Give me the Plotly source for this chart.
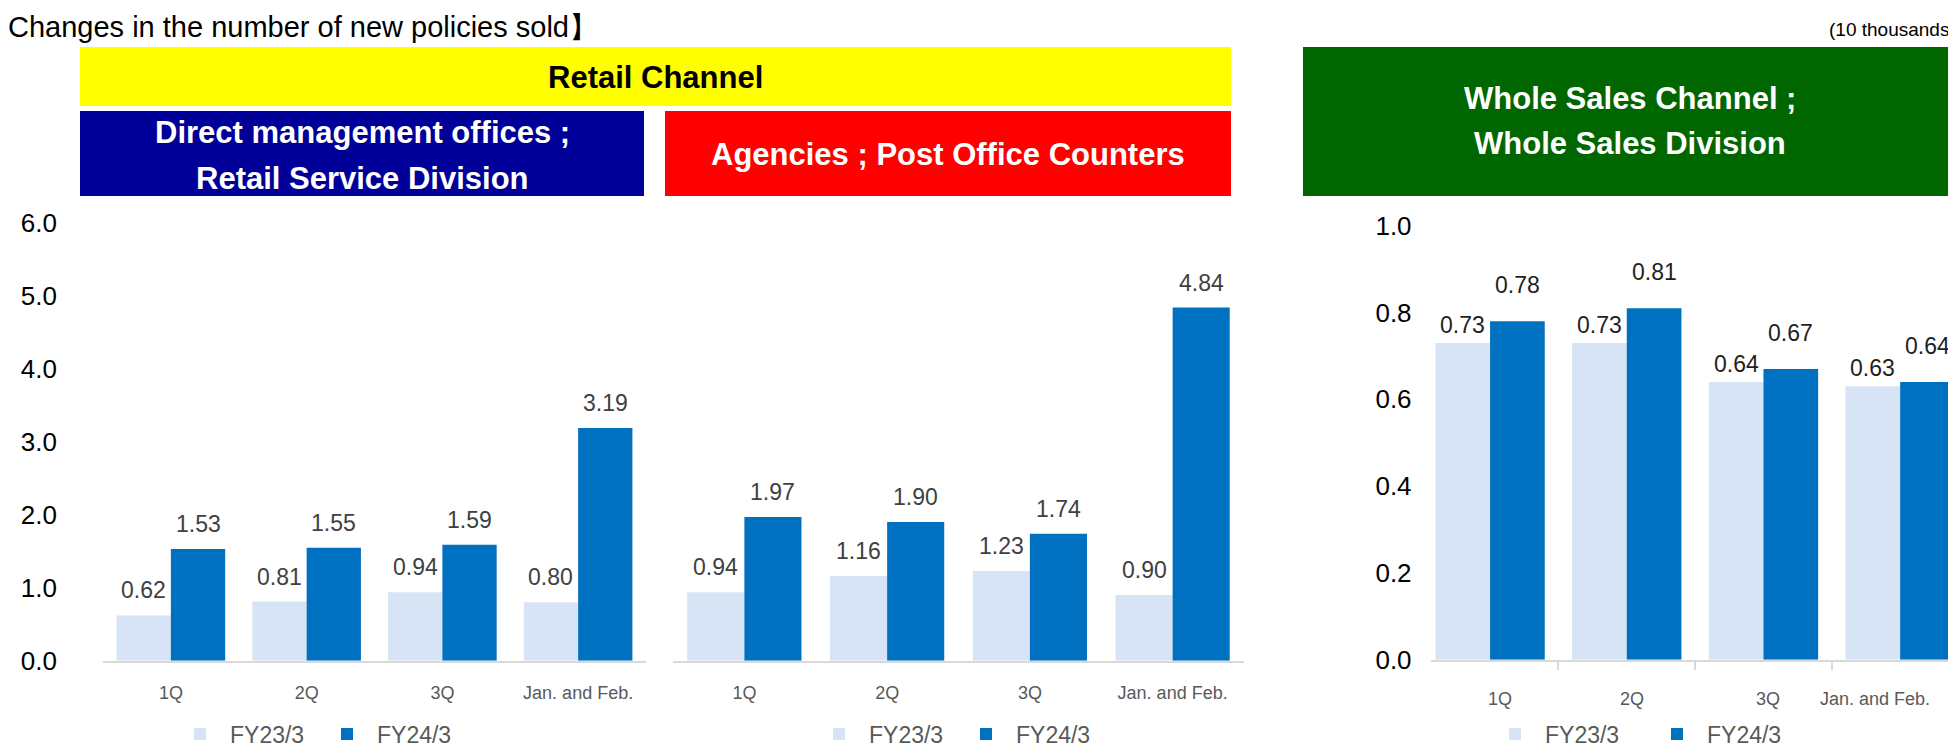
import plotly.graph_objects as go

W, H = 1956, 747

categories = ["1Q", "2Q", "3Q", "Jan. and Feb."]
series_names = ["FY23/3", "FY24/3"]

direct_fy23 = [0.62, 0.81, 0.94, 0.80]
direct_fy24 = [1.53, 1.55, 1.59, 3.19]

agency_fy23 = [0.94, 1.16, 1.23, 0.90]
agency_fy24 = [1.97, 1.90, 1.74, 4.84]

whole_fy23 = [0.73, 0.73, 0.64, 0.63]
whole_fy24 = [0.78, 0.81, 0.67, 0.64]

retail_ticks = [0, 1, 2, 3, 4, 5, 6]
whole_ticks = [0, 0.2, 0.4, 0.6, 0.8, 1.0]

LIGHT = "#D6E4F5"
DARK = "#0070C0"
FONT = "Arial, Liberation Sans, sans-serif"


def px(x):
    return x / W


def py(y):
    return 1 - y / H


fig = go.Figure()

panels = [
    ("x", "y", "legend", direct_fy23, direct_fy24),
    ("x2", "y2", "legend2", agency_fy23, agency_fy24),
    ("x3", "y3", "legend3", whole_fy23, whole_fy24),
]
for xa, ya, lg, s1, s2 in panels:
    fig.add_trace(go.Bar(x=categories, y=s1, name=series_names[0], marker=dict(color=LIGHT, line=dict(width=0)),
                         xaxis=xa, yaxis=ya, legend=lg, hoverinfo="skip"))
    fig.add_trace(go.Bar(x=categories, y=s2, name=series_names[1], marker=dict(color=DARK, line=dict(width=0)),
                         xaxis=xa, yaxis=ya, legend=lg, hoverinfo="skip"))

BARGAP = 0.2
off = (1 - BARGAP) / 4

annotations = []
label_cfg = [
    ("x", "y", direct_fy23, direct_fy24, 25, 25, "#404040"),
    ("x2", "y2", agency_fy23, agency_fy24, 25, 25, "#404040"),
    ("x3", "y3", whole_fy23, whole_fy24, 18, 36, "#1F1F1F"),
]
for xa, ya, s1, s2, sh1, sh2, col in label_cfg:
    for i, v in enumerate(s1):
        annotations.append(dict(x=i - off, y=v, xref=xa, yref=ya, text=f"{v:.2f}", showarrow=False,
                                yshift=sh1, yanchor="middle", font=dict(family=FONT, size=23, color=col)))
    for i, v in enumerate(s2):
        annotations.append(dict(x=i + off, y=v, xref=xa, yref=ya, text=f"{v:.2f}", showarrow=False,
                                yshift=sh2, yanchor="middle", font=dict(family=FONT, size=23, color=col)))

# category labels of the right-hand panel (last one pulled inside the page, as in the original)
right_label_xshift = [10, 5, 5, -25]
for i, c in enumerate(categories):
    annotations.append(dict(x=i, y=0, xref="x3", yref="y3", text=c, showarrow=False,
                            xshift=right_label_xshift[i], yshift=-39, yanchor="middle",
                            font=dict(family=FONT, size=18, color="#595959")))

# header boxes
shapes = []
boxes = [
    (72, 39, 1223, 98, "#FFFF00"),
    (72, 103, 636, 188, "#000099"),
    (657, 103, 1223, 188, "#FF0000"),
    (1295, 39, 1952, 188, "#006600"),
]
for x0, y0, x1, y1, c in boxes:
    shapes.append(dict(type="rect", xref="paper", yref="paper", x0=px(x0), x1=px(x1), y0=py(y1), y1=py(y0),
                       fillcolor=c, line=dict(width=0), layer="below"))

hdr = [
    ("Retail Channel", 647, 69, "black"),
    ("Direct management offices ;", 354, 124, "white"),
    ("Retail Service Division", 354, 171, "white"),
    ("Agencies ; Post Office Counters", 940, 146, "white"),
    ("Whole Sales Channel ;", 1622, 91, "white"),
    ("Whole Sales Division", 1622, 135, "white"),
]
for t, cx, cy, c in hdr:
    annotations.append(dict(x=px(cx), y=py(cy), xref="paper", yref="paper", text=f"<b>{t}</b>", showarrow=False,
                            xanchor="center", yanchor="middle", font=dict(family=FONT, size=31, color=c)))

annotations.append(dict(x=px(-2), y=py(19), xref="paper", yref="paper",
                        text="Changes in the number of new policies sold】", showarrow=False,
                        xanchor="left", yanchor="middle", font=dict(family=FONT, size=29, color="black")))
annotations.append(dict(x=px(1950), y=py(21), xref="paper", yref="paper", text="(10 thousands)", showarrow=False,
                        xanchor="right", yanchor="middle", font=dict(family=FONT, size=19, color="black")))

xcommon = dict(type="category", categoryorder="array", categoryarray=categories, showgrid=False,
               zeroline=False, showline=True, linecolor="#D9D9D9", linewidth=2, tickangle=0,
               tickfont=dict(family=FONT, size=18, color="#595959"), fixedrange=True)

ydom_retail = [py(652.7), py(215)]
ydom_whole = [py(651.7), py(217.7)]

legend_common = dict(orientation="h", yanchor="middle", xanchor="left", bgcolor="rgba(0,0,0,0)",
                     font=dict(family=FONT, size=23, color="#595959"), itemwidth=50,
                     entrywidthmode="pixels", y=py(726), traceorder="normal")

fig.update_layout(
    width=W, height=H,
    margin=dict(l=0, r=0, t=0, b=0, autoexpand=False),
    paper_bgcolor="white", plot_bgcolor="white",
    barmode="group", bargap=BARGAP, bargroupgap=0,
    showlegend=True,
    xaxis=dict(domain=[px(95), px(638)], range=[-0.5, 3.5], anchor="y", ticks="",
               ticklabelstandoff=15, **xcommon),
    yaxis=dict(domain=ydom_retail, range=[0, 6], tickvals=retail_ticks, tickformat=".1f", anchor="x",
               showgrid=False, zeroline=False, showline=False, ticks="",
               tickfont=dict(family=FONT, size=26, color="black"), ticklabelstandoff=45, fixedrange=True),
    xaxis2=dict(domain=[px(665), px(1236)], range=[-0.5, 3.5], anchor="y2", ticks="",
                ticklabelstandoff=15, **xcommon),
    yaxis2=dict(domain=ydom_retail, range=[0, 6], anchor="x2", showgrid=False, zeroline=False,
                showline=False, showticklabels=False, ticks="", fixedrange=True),
    xaxis3=dict(domain=[px(1422.6), 1], range=[-0.435, 3.467], anchor="y3", ticks="outside",
                tickson="boundaries", ticklen=8, tickwidth=2, tickcolor="#D9D9D9",
                showticklabels=False, **xcommon),
    yaxis3=dict(domain=ydom_whole, range=[0, 1], tickvals=whole_ticks, tickformat=".1f", anchor="x3",
                showgrid=False, zeroline=False, showline=False, ticks="",
                tickfont=dict(family=FONT, size=26, color="black"), ticklabelstandoff=18, fixedrange=True),
    legend=dict(x=px(162), entrywidth=82, **legend_common),
    legend2=dict(x=px(801), entrywidth=82, **legend_common),
    legend3=dict(x=px(1477), entrywidth=97, **legend_common),
    annotations=annotations,
    shapes=shapes,
)

fig.write_html("out.html")
